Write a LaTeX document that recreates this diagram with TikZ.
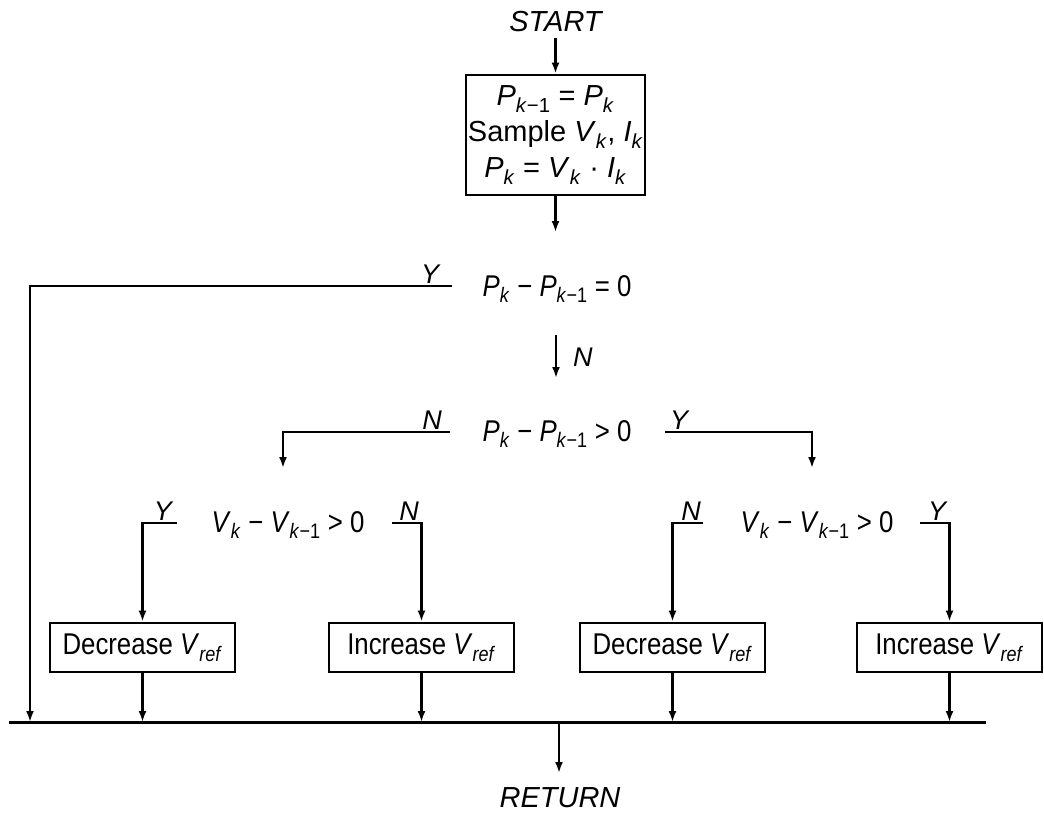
\documentclass[tikz,border=0pt]{standalone}
\usepackage{fontspec}
\setmainfont{Liberation Sans}
\newfontfamily\narrowfont{Liberation Sans}[FakeStretch=0.86]
\usetikzlibrary{arrows.meta}
\newcommand{\vv}[2]{\textit{#1}\textsubscript{#2}}
\newcommand{\kk}{\textit{k}}
\tikzset{
  conn/.style={line width=2.5pt},
  arr/.style={line width=2.5pt,-{Latex[length=11pt,width=8pt]}},
  actbox/.style={draw,line width=2.8pt,minimum width=185pt,minimum height=49pt,inner sep=0pt,
    font=\narrowfont\fontsize{30}{34}\selectfont},
  initbox/.style={draw,line width=2.8pt,minimum width=179pt,minimum height=120pt,inner sep=0pt,align=center,
    font=\fontsize{29}{36}\selectfont},
  cond/.style={anchor=base,inner sep=0pt,font=\narrowfont\fontsize{30}{34}\selectfont},
  yn/.style={anchor=south,inner sep=1pt,font=\itshape\fontsize{27}{29}\selectfont},
  term/.style={inner sep=0pt,font=\itshape\fontsize{29}{32}\selectfont},
}
\begin{document}
\begin{tikzpicture}[x=1pt,y=-1pt]
\useasboundingbox (0,0) rectangle (1044,812);

% start and initial box
\node[term] (start) at (555.5,22) {START};
\node[initbox] (init) at (555.5,135) {\vv{P}{\kk−1} = \vv{P}{\kk}\\Sample \vv{V}{\kk}, \vv{I}{\kk}\\\vv{P}{\kk} = \vv{V}{\kk} · \vv{I}{\kk}};
\draw[arr] ([yshift=-6pt]start.south) -- (init.north);
\coordinate (initout) at (init.south |- 0,232);
\draw[arr] (init.south) -- (initout);

% decision 1
\node[cond] (d1) at (557,296) {\vv{P}{\kk} − \vv{P}{\kk−1} = 0};
\coordinate (d1y) at (452,286);
\coordinate (busL) at (9,722);
\coordinate (busR) at (986,722);
\coordinate (busM) at (559,722);
\coordinate (d1ye) at (30,722);
\draw[arr] (d1y) -| (d1ye);
\node[yn] (d1ylab) at (430,285) {Y};
\coordinate (d1n) at (556,335);
\coordinate (d1ne) at (556,378);
\draw[arr] (d1n) -- (d1ne);
\node[anchor=west,inner sep=0pt,font=\itshape\fontsize{27}{29}\selectfont] (d1nlab) at (573,357) {N};

% decision 2
\node[cond] (d2) at (557,441) {\vv{P}{\kk} − \vv{P}{\kk−1} > 0};
\coordinate (d2n) at (450,432);
\coordinate (d2ne) at (283,468);
\draw[arr] (d2n) -| (d2ne);
\node[yn] (d2nlab) at (432,431) {N};
\coordinate (d2y) at (665,432);
\coordinate (d2ye) at (812,468);
\draw[arr] (d2y) -| (d2ye);
\node[yn] (d2ylab) at (679,431) {Y};

% action boxes
\node[actbox] (b1) at (142.5,647.5) {Decrease \vv{V}{\textit{ref}}};
\node[actbox] (b2) at (421.5,647.5) {Increase \vv{V}{\textit{ref}}};
\node[actbox] (b3) at (672.5,647.5) {Decrease \vv{V}{\textit{ref}}};
\node[actbox] (b4) at (949.5,647.5) {Increase \vv{V}{\textit{ref}}};

% decision 3 (left)
\node[cond] (d3) at (288,532) {\vv{V}{\kk} − \vv{V}{\kk−1} > 0};
\coordinate (d3y) at (177,523);
\draw[arr] (d3y) -| (b1.north);
\node[yn] (d3ylab) at (163,522) {Y};
\coordinate (d3n) at (392,523);
\draw[arr] (d3n) -| (b2.north);
\node[yn] (d3nlab) at (409,522) {N};

% decision 4 (right)
\node[cond] (d4) at (817,532) {\vv{V}{\kk} − \vv{V}{\kk−1} > 0};
\coordinate (d4n) at (703,523);
\draw[arr] (d4n) -| (b3.north);
\node[yn] (d4nlab) at (691,522) {N};
\coordinate (d4y) at (920,523);
\draw[arr] (d4y) -| (b4.north);
\node[yn] (d4ylab) at (937,522) {Y};

% bus and return
\draw[line width=3pt] (busL) -- (busR);
\foreach \b in {b1,b2,b3,b4} {
  \draw[arr] (\b.south) -- (\b.south |- busL);
}
\node[term] (ret) at (560,798) {RETURN};
\draw[arr] (busM) -- (busM |- 0,773);
\end{tikzpicture}
\end{document}
